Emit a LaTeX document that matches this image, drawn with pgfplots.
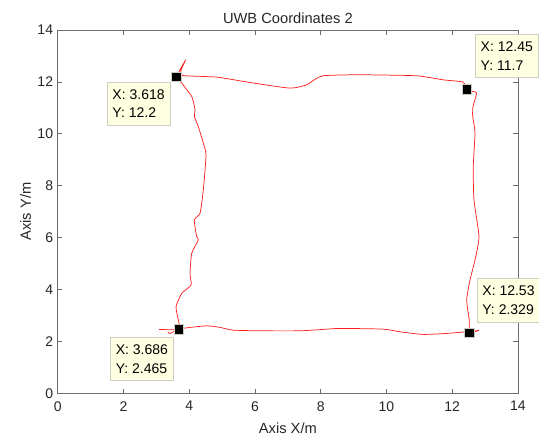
\documentclass[border=0pt]{standalone}
\usepackage{fontspec}
\setmainfont{Liberation Sans}
\usepackage{pgfplots}
\pgfplotsset{compat=1.18}
\definecolor{tipfill}{RGB}{255,255,226}
\definecolor{tipedge}{RGB}{205,205,195}
\definecolor{axgray}{RGB}{110,110,110}
\definecolor{txtgray}{RGB}{38,38,38}
\definecolor{trk}{RGB}{255,30,30}
\begin{document}
\begin{tikzpicture}
\begin{axis}[
  scale only axis,
  width=345pt, height=272.25pt,
  xmin=0, xmax=14, ymin=0, ymax=14,
  xtick={0,2,...,14}, ytick={0,2,...,14},
  tick align=inside,
  major tick length=3.5pt,
  axis line style={axgray, line width=0.5pt},
  every tick/.style={axgray, line width=0.5pt},
  tick label style={font=\fontsize{10.5}{12}\selectfont, text=txtgray},
  xticklabel style={yshift=-2.5pt},
  /pgf/number format/assume math mode=true,
  title={UWB Coordinates 2},
  title style={font=\fontsize{11}{13}\selectfont, text=txtgray, yshift=-4.5pt},
  xlabel={Axis X/m},
  ylabel={Axis Y/m},
  label style={font=\fontsize{11}{13}\selectfont, text=txtgray},
  xlabel style={yshift=-2pt},
  ylabel style={yshift=-2pt},
  clip=false,
]
\addplot[trk, line width=0.55pt, smooth, tension=0.35] coordinates {
(3.081,2.459) (3.686,2.465) (3.668,2.817) (3.598,3.331) (3.771,3.848)
(4.054,4.168) (4.024,4.620) (4.075,5.392) (4.276,5.905) (4.227,6.032)
(4.155,6.677) (4.328,6.936) (4.428,7.835) (4.510,9.186) (4.428,9.637)
(4.276,10.278) (4.155,10.664) (4.176,10.922) (4.075,11.436) (3.771,11.953)
(3.618,12.2) (3.893,12.852) (3.75,12.45) (3.811,12.246) (4.836,12.184)
(5.849,11.976) (7.065,11.760) (7.573,11.887) (7.765,12.053) (8.069,12.235)
(8.890,12.273) (9.398,12.273) (10.918,12.235) (11.718,12.080) (12.327,11.991)
(12.45,11.7) (12.631,11.629) (12.743,11.567) (12.631,11.050) (12.622,10.664)
(12.692,10.035) (12.640,8.734) (12.661,7.449) (12.813,6.032) (12.692,5.133)
(12.540,4.361) (12.439,3.589) (12.518,2.817) (12.53,2.329) (12.822,2.431)
(12.53,2.35) (12.439,2.366) (11.831,2.304) (11.110,2.266) (10.411,2.366)
(9.893,2.470) (8.586,2.497) (8.069,2.459) (7.369,2.405) (6.153,2.405)
(5.331,2.431) (4.936,2.536) (4.532,2.597) (3.923,2.520) (3.686,2.465)
(3.415,2.304) (3.35,2.36)
};
\addplot[only marks, mark=square*, mark size=3.6pt,
  mark options={fill=black, draw=tipedge, line width=0.6pt}] coordinates {
(3.618,12.2) (12.45,11.7) (12.53,2.329) (3.686,2.465)
};
\tikzset{tip/.style={draw=tipedge, fill=tipfill, line width=0.6pt, anchor=north west,
  align=left, inner xsep=4pt, inner ysep=5.5pt, text=black,
  font=\fontsize{10.5}{14}\selectfont}}
\node[tip] at (axis cs:1.49,12.015) {X: 3.618\\Y: 12.2};
\node[tip] at (axis cs:12.692,13.844) {X: 12.45\\Y: 11.7};
\node[tip] at (axis cs:1.591,2.173) {X: 3.686\\Y: 2.465};
\node[tip] at (axis cs:12.743,4.427) {X: 12.53\\Y: 2.329};
\end{axis}
\pgfresetboundingbox
\path[use as bounding box] ([xshift=-43.3pt,yshift=-34.5pt]current axis.south west) rectangle ([xshift=15.75pt,yshift=22.5pt]current axis.north east);
\end{tikzpicture}
\end{document}
